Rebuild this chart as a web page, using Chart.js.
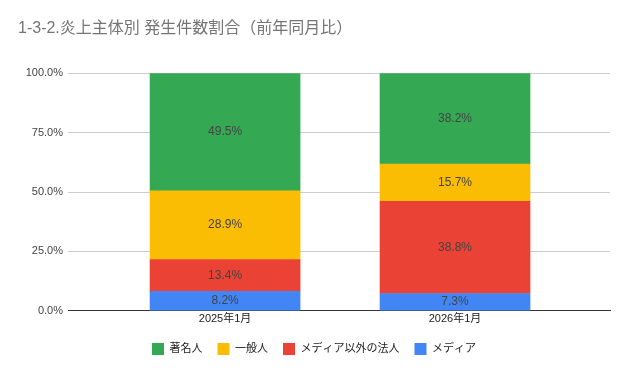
<!DOCTYPE html>
<html>
<head>
<meta charset="utf-8">
<script src="https://cdn.jsdelivr.net/npm/chart.js@4/dist/chart.umd.min.js"></script>
<style>
  html, body { margin: 0; padding: 0; background: #fff; }
  #wrap { width: 631px; height: 371px; }
</style>
</head>
<body>
<div id="wrap"><canvas id="chart"></canvas></div>
<script>
const categories = ['2025年1月', '2026年1月'];
const seriesNames = ['メディア', 'メディア以外の法人', '一般人', '著名人'];
const media = [8.2, 7.3];
const corporate = [13.4, 38.8];
const general = [28.9, 15.7];
const celebrity = [49.5, 38.2];
const yTicks = [0, 25, 50, 75, 100];

const colors = ['#4285f4', '#ea4335', '#fbbc04', '#34a853'];
const FONT = "Arial, 'Liberation Sans', 'Noto Sans CJK JP', sans-serif";
Chart.defaults.font.family = FONT;

const toPoints = (arr) => arr.map((v, i) => ({ x: i, y: v }));
const allSeries = [media, corporate, general, celebrity];

const valueLabels = {
  id: 'valueLabels',
  afterDatasetsDraw(chart) {
    const ctx = chart.ctx;
    ctx.save();
    ctx.font = '12px ' + FONT;
    ctx.fillStyle = '#444';
    ctx.textAlign = 'center';
    ctx.textBaseline = 'middle';
    chart.data.datasets.forEach((ds, di) => {
      const meta = chart.getDatasetMeta(di);
      meta.data.forEach((el, i) => {
        const y = (el.y + el.base) / 2;
        ctx.fillText(ds.data[i].y.toFixed(1) + '%', el.x, y);
      });
    });
    ctx.restore();
  }
};

new Chart(document.getElementById('chart'), {
  type: 'bar',
  data: {
    datasets: allSeries.map((s, i) => ({
      label: seriesNames[i],
      data: toPoints(s),
      backgroundColor: colors[i],
      barThickness: 150
    }))
  },
  options: {
    responsive: true,
    maintainAspectRatio: false,
    animation: false,
    layout: { padding: { left: 18, right: 21, top: 12, bottom: 6 } },
    plugins: {
      title: {
        display: true,
        text: '1-3-2.炎上主体別 発生件数割合（前年同月比）',
        align: 'start',
        color: '#757575',
        font: { size: 16, weight: 'normal' },
        padding: { top: 7, bottom: 35 }
      },
      legend: {
        position: 'bottom',
        reverse: true,
        labels: {
          boxWidth: 12,
          boxHeight: 12,
          padding: 15,
          color: '#222',
          font: { size: 11 }
        }
      },
      tooltip: { enabled: false }
    },
    scales: {
      x: {
        type: 'linear',
        stacked: true,
        offset: false,
        min: -0.683,
        max: 1.674,
        afterBuildTicks: (scale) => { scale.ticks = categories.map((c, i) => ({ value: i })); },
        ticks: {
          callback: (v) => categories[v],
          color: '#222',
          font: { size: 11 },
          padding: 2,
          maxRotation: 0
        },
        grid: { display: false, drawTicks: false },
        border: { display: true, color: '#333', width: 1 }
      },
      y: {
        stacked: true,
        min: 0,
        max: 100,
        afterBuildTicks: (scale) => { scale.ticks = yTicks.map(v => ({ value: v })); },
        afterFit: (scale) => { scale.width = 50; },
        ticks: {
          callback: (v) => v.toFixed(1) + '%',
          color: '#444',
          font: { size: 11 },
          padding: 5
        },
        grid: {
          drawTicks: false,
          color: (c) => c.tick && c.tick.value === 0 ? '#333' : '#ccc'
        },
        border: { display: false }
      }
    }
  },
  plugins: [valueLabels]
});
</script>
</body>
</html>
